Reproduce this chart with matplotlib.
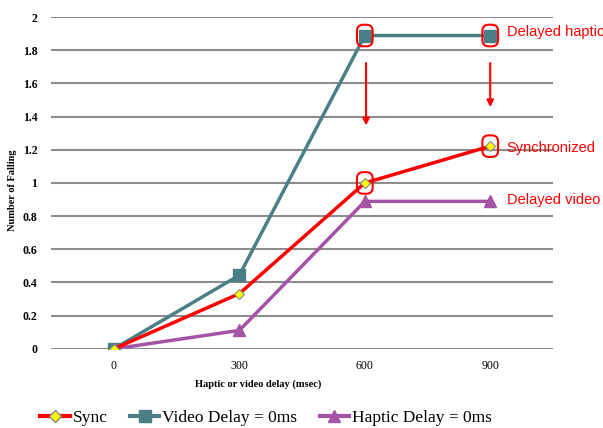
import matplotlib
matplotlib.use("Agg")
import matplotlib.pyplot as plt
from matplotlib.patches import FancyBboxPatch
from matplotlib.lines import Line2D

delays = ["0", "300", "600", "900"]
sync = [0.0, 0.333, 1.0, 1.222]
video_delay = [0.0, 0.444, 1.889, 1.889]
haptic_delay = [0.0, 0.111, 0.889, 0.889]
y_ticks = [0, 0.2, 0.4, 0.6, 0.8, 1, 1.2, 1.4, 1.6, 1.8, 2]

RED = "#ff0000"
TEAL = "#4a7f86"
PURPLE = "#a453a6"
SERIF = ["Liberation Serif", "DejaVu Serif"]

fig = plt.figure(figsize=(6.03, 4.28), dpi=100)
ax = fig.add_axes([0.085, 0.185, 0.832, 0.775])

x = list(range(len(delays)))
ax.plot(x, sync, color=RED, lw=2.5, marker="D", ms=5, mfc="#ffff00",
        mec="#888888", mew=0.8, zorder=4)
ax.plot(x, video_delay, color=TEAL, lw=2.5, marker="s", ms=8, mfc=TEAL,
        mec=TEAL, zorder=3)
ax.plot(x, haptic_delay, color=PURPLE, lw=2.5, marker="^", ms=9, mfc=PURPLE,
        mec=PURPLE, zorder=3)

ax.set_xlim(-0.5, 3.5)
ax.set_ylim(0, 2)
ax.set_yticks(y_ticks)
ax.set_yticklabels([f"{t:g}" for t in y_ticks], fontfamily=SERIF,
                   fontsize=8.5, fontweight="bold")
ax.set_xticks(x)
ax.set_xticklabels(delays, fontfamily=SERIF, fontsize=8.5)
ax.tick_params(length=0, pad=10)
ax.tick_params(axis="x", pad=8)
ax.yaxis.grid(True, color="#8c8c8c", lw=1.5)
ax.set_axisbelow(True)
for s in ax.spines.values():
    s.set_visible(False)

# red highlight rings around the compared points
rings = [(2, video_delay[2]), (3, video_delay[3]), (2, sync[2]), (3, sync[3])]
w, h = 0.125, 0.13
for cx, cy in rings:
    ax.add_patch(FancyBboxPatch((cx - w / 2, cy - h / 2), w, h,
                                boxstyle="round,pad=0,rounding_size=0.05",
                                mutation_aspect=0.75, fill=False, ec=RED,
                                lw=1.5, zorder=6, clip_on=False))

# arrows from delayed-haptic level down toward synchronized
ax.annotate("", xy=(2.01, 1.33), xytext=(2.01, 1.74),
            arrowprops=dict(arrowstyle="-|>", color=RED, lw=1.5,
                            mutation_scale=10))
ax.annotate("", xy=(3.0, 1.44), xytext=(3.0, 1.74),
            arrowprops=dict(arrowstyle="-|>", color=RED, lw=1.5,
                            mutation_scale=10))

for yy, txt in [(1.91, "Delayed haptic"), (1.21, "Synchronized"),
                (0.895, "Delayed video")]:
    ax.text(3.13, yy, txt, color=RED, fontsize=10.5,
            fontfamily="Liberation Sans", va="center", clip_on=False)

fig.text(258 / 603, 1 - 384 / 428, "Haptic or video delay (msec)",
         fontfamily=SERIF, fontsize=7.5, fontweight="bold",
         ha="center", va="center")
fig.text(13 / 603, 1 - 190 / 428, "Number of Falling", rotation=90,
         fontfamily=SERIF, fontsize=7.5, fontweight="bold",
         ha="center", va="center")

handles = [
    Line2D([], [], color=RED, lw=3, marker="D", ms=6, mfc="#ffff00",
           mec="#888888"),
    Line2D([], [], color=TEAL, lw=3, marker="s", ms=9, mfc=TEAL, mec=TEAL),
    Line2D([], [], color=PURPLE, lw=3, marker="^", ms=9, mfc=PURPLE,
           mec=PURPLE),
]
labels = ["Sync", "Video Delay = 0ms", "Haptic Delay = 0ms"]
fig.legend(handles, labels, loc="center", ncol=3, frameon=False,
           bbox_to_anchor=(266 / 603, 1 - 418 / 428),
           prop={"family": SERIF, "size": 12.5}, handlelength=1.7,
           handletextpad=0.15, columnspacing=1.3)

fig.savefig("out.png", dpi=100)
